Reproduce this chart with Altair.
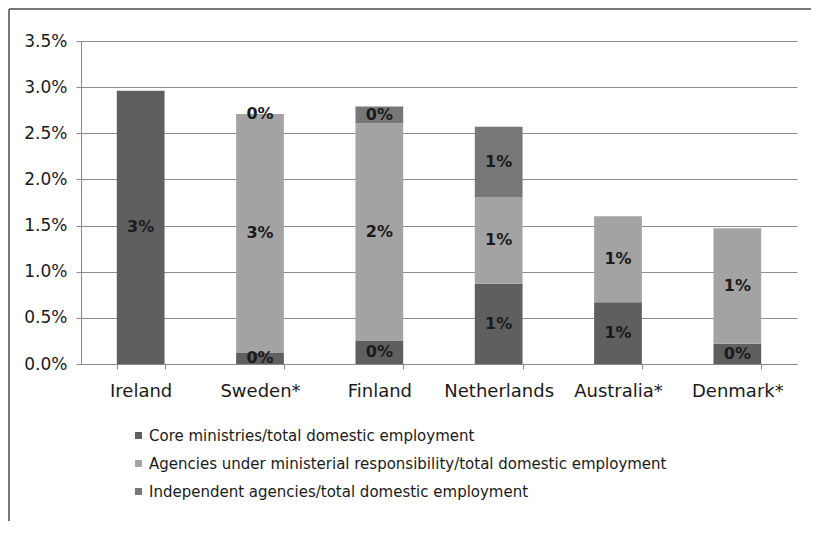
import altair as alt
import pandas as pd

countries = ["Ireland", "Sweden*", "Finland", "Netherlands", "Australia*", "Denmark*"]
core = [0.0296, 0.0012, 0.0025, 0.0087, 0.0067, 0.0022]
agencies = [None, 0.0259, 0.0236, 0.0094, 0.0093, 0.0125]
independent = [None, 0.0, 0.0018, 0.0076, None, None]
series = [
    "Core ministries/total domestic employment",
    "Agencies under ministerial responsibility/total domestic employment",
    "Independent agencies/total domestic employment",
]
colors = ["#5f5f5f", "#a3a3a3", "#777777"]
y_ticks = [0, 0.005, 0.01, 0.015, 0.02, 0.025, 0.03, 0.035]

rows = []
for i, c in enumerate(countries):
    for k, vals in enumerate([core, agencies, independent]):
        v = vals[i]
        if v is not None:
            rows.append({"country": c, "series": series[k], "order": k, "value": v})
df = pd.DataFrame(rows)

FONT = "DejaVu Sans"

base = alt.Chart(df).transform_stack(
    stack="value", groupby=["country"], as_=["v0", "v1"],
    sort=[alt.SortField("order", order="ascending")],
).transform_calculate(mid="(datum.v0 + datum.v1) / 2")

x_enc = alt.X(
    "country:N", sort=countries,
    scale=alt.Scale(paddingInner=0.6, paddingOuter=0.3),
    axis=alt.Axis(
        title=None, tickBand="extent", labelFont=FONT, labelFontSize=18,
        labelColor="#1a1a1a", labelPadding=13, tickSize=5, tickColor="#888888",
        domainColor="#888888", labelAngle=0, grid=False,
    ),
)
y_scale = alt.Scale(domain=[0, 0.035])

bars = base.mark_bar().encode(
    x=x_enc,
    y=alt.Y(
        "v0:Q", scale=y_scale,
        axis=alt.Axis(
            title=None, format=".1%", values=y_ticks, labelFont=FONT,
            labelFontSize=17, labelColor="#1a1a1a", tickSize=5,
            tickColor="#888888", domainColor="#888888", grid=True,
            gridColor="#8c8c8c", labelPadding=9,
        ),
    ),
    y2="v1:Q",
    color=alt.Color(
        "series:N",
        scale=alt.Scale(domain=series, range=colors),
        legend=alt.Legend(
            title=None, orient="none", legendX=50, legendY=387,
            symbolType="square", symbolSize=49, symbolStrokeWidth=0,
            labelFont=FONT, labelFontSize=15, labelColor="#1a1a1a",
            rowPadding=12, padding=0, labelOffset=3, labelLimit=800,
        ),
    ),
)

labels = base.mark_text(
    font=FONT, fontWeight="bold", fontSize=16, color="#1a1a1a", baseline="middle"
).encode(
    x=alt.X("country:N", sort=countries),
    y=alt.Y("mid:Q", scale=y_scale),
    text=alt.Text("value:Q", format=".0%"),
)

frame_data = alt.Data(values=[{"a": 1}])
frame_top = alt.Chart(frame_data).mark_rule(color="#777777", strokeWidth=2).encode(
    x=alt.value(-72), x2=alt.value(730), y=alt.value(-32)
)
frame_left = alt.Chart(frame_data).mark_rule(color="#777777", strokeWidth=2).encode(
    x=alt.value(-72), y=alt.value(-32), y2=alt.value(480)
)

chart = alt.layer(frame_top, frame_left, bars, labels).properties(
    width=716, height=323,
    autosize=alt.AutoSizeParams(type="none"),
    padding={"left": 73, "top": 33, "right": 15, "bottom": 164},
).configure_view(stroke=None)

chart.save("out.html", embed_options={"renderer": "svg", "actions": False})
